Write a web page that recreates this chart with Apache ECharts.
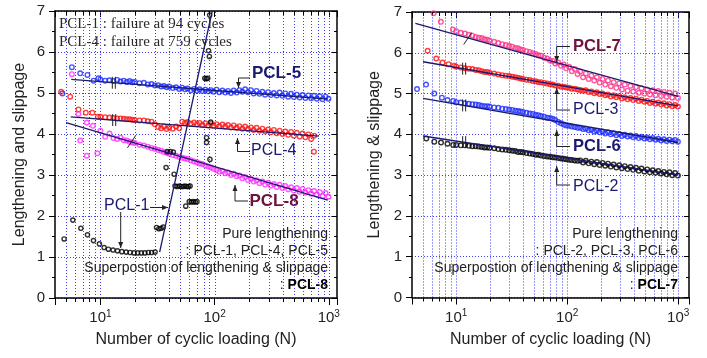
<!DOCTYPE html>
<html><head><meta charset="utf-8">
<script src="https://cdn.jsdelivr.net/npm/echarts@6/dist/echarts.min.js"></script>
<style>html,body{margin:0;padding:0;background:#fff}#c{width:707px;height:358px}</style>
</head><body><div id="c"></div>
<script>
// ---------- data ----------
const cycles = [10,11,12,13,14,15,16,17,18,19,20,22,24,26,28,30,32,34,36,38,40,43,46,49,52,55,58,62,66,70,74,78,83,88,93,98,104,110,117,124,131,139,147,156,165,175,185,196,208,220,233,247,262,277,294,311,330,350,371,393,416,441,467,495,525,556,589,624,661,701,743,787,834,884,937,993];
const majorCycles = [10,100,1000];
const minorCycles = [5,6,7,8,9,20,30,40,50,60,70,80,90,200,300,400,500,600,700,800,900];

// left panel
const pcl5Early = [[4.65,4.99],[5.62,5.63],[6.65,5.48],[7.7,5.44],[8.7,5.30],[9.6,5.36]];
const pcl5 = [5.33,5.30,5.31,5.29,5.32,5.28,5.30,5.27,5.29,5.26,
 5.27,5.24,5.25,5.21,5.22,5.18,5.19,5.16,5.17,5.14,
 5.16,5.12,5.14,5.10,5.13,5.09,5.11,5.07,5.10,5.06,
 5.09,5.05,5.08,5.04,5.07,5.03,5.08,5.02,5.06,5.01,
 5.05,5.00,5.06,5.01,5.07,5.03,5.09,5.02,5.07,4.99,
 5.05,4.98,5.03,4.96,5.02,4.95,5.00,4.94,5.01,4.93,
 4.99,4.91,4.98,4.90,4.96,4.89,4.95,4.88,4.94,4.87,
 4.93,4.86,4.92,4.85,4.91,4.86];
const pcl4Early = [[4.53,5.03],[5.43,4.91],[6.42,4.60],[7.45,4.52],[8.5,4.52],[9.5,4.42]];
const pcl4Extra = [[740,3.57]];
const pcl4 = [4.42,4.41,4.40,4.39,4.38,4.38,4.37,4.36,4.36,4.35,
 4.34,4.33,4.33,4.31,4.30,4.24,4.17,4.14,4.18,4.12,
 4.16,4.13,4.18,4.14,4.30,4.27,4.29,4.25,4.28,4.24,
 4.27,4.22,4.26,4.21,4.25,4.20,4.24,4.19,4.23,4.18,
 4.22,4.16,4.21,4.15,4.19,4.13,4.18,4.12,4.16,4.10,
 4.15,4.08,4.13,4.06,4.11,4.04,4.10,4.02,4.08,4.00,
 4.06,3.98,4.05,3.96,4.03,3.94,4.01,3.92,3.99,3.88,
 3.96];
const pcl8Early = [[5.62,5.46],[6.42,4.49],[6.65,3.84],[7.6,4.28],[7.6,3.47],[8.6,4.20],[9.4,3.53]];
const pcl8 = [4.08,3.93,4.01,3.90,3.88,3.91,3.85,3.84,3.81,3.79,
 3.78,3.74,3.72,3.69,3.66,3.64,3.61,3.59,3.56,3.54,
 3.52,3.49,3.47,3.44,3.42,3.40,3.39,3.36,3.33,3.31,
 3.28,3.27,3.23,3.21,3.18,3.15,3.12,3.08,3.10,3.04,
 3.06,3.00,3.03,2.97,2.99,2.92,2.95,2.88,2.91,2.84,
 2.87,2.80,2.84,2.77,2.81,2.74,2.78,2.71,2.76,2.68,
 2.73,2.65,2.70,2.62,2.68,2.59,2.66,2.57,2.63,2.54,
 2.61,2.52,2.58,2.49,2.56,2.47];
const pcl1 = [[4.81,1.44],[5.73,1.90],[6.74,1.70],[7.7,1.54],[8.69,1.40],[9.8,1.32],[10.77,1.23],[11.75,1.19],[12.9,1.17],[14.1,1.15],[15.4,1.13],[16.8,1.12],[18.2,1.11],[19.7,1.10],[21.2,1.10],[22.8,1.10],[24.5,1.10],[26.3,1.11],[28.1,1.11],[30.1,1.12],
 [31,1.72],[32.5,1.69],[34,1.70],[35.5,1.73],[37.6,3.18],[38.5,3.57],[41,3.57],[43.5,3.56],[44.2,3.02],
 [45,2.73],[47,2.72],[49,2.73],[51,2.72],[53,2.72],[55,2.73],[57,2.72],[59,2.72],[61,2.73],
 [55.9,2.24],[60,2.35],[62.5,2.34],[65,2.35],[67.5,2.34],[70,2.35],
 [82,5.36],[84.5,5.35],[87,5.36],[88.5,6.03],[90,5.89],[90.5,6.9],[85,3.91],[85,3.79],[91,3.38],[92.4,4.29]];
const fitPCL5 = [[5.55,5.33],[980,4.85]];
const fitPCL4 = [[5.5,4.42],[818,3.95]];
const fitPCL8 = [[5.0,4.28],[980,2.39]];
const fitPCL1 = [[33,1.12],[95.3,7.0]];
const breaksLeft = [[13.1,5.25,0],[13.2,4.34,0],[18.7,3.81,1]];

// right panel
const pcl7Early = [[6.26,6.97],[7.28,6.76],[9.34,6.57]];
const pcl7 = [6.53,6.49,6.47,6.44,6.42,6.39,6.37,6.36,6.33,6.32,
 6.30,6.27,6.24,6.21,6.19,6.17,6.15,6.12,6.11,6.08,
 6.07,6.04,6.02,5.99,5.97,5.94,5.93,5.88,5.86,5.81,
 5.80,5.74,5.76,5.68,5.71,5.62,5.66,5.55,5.60,5.48,
 5.54,5.40,5.49,5.36,5.44,5.32,5.40,5.27,5.36,5.22,
 5.32,5.18,5.28,5.14,5.25,5.10,5.22,5.07,5.19,5.05,
 5.16,5.02,5.13,5.00,5.10,4.98,5.08,4.96,5.06,4.94,
 5.04,4.92,5.02,4.90,5.00,4.89];
const pcl3Early = [[5.53,6.05],[6.62,5.86],[7.54,5.76],[8.53,5.72],[9.6,5.68]];
const pcl3 = [5.66,5.64,5.62,5.61,5.60,5.58,5.57,5.55,5.53,5.53,
 5.51,5.49,5.47,5.45,5.44,5.43,5.41,5.40,5.39,5.37,
 5.36,5.34,5.33,5.31,5.30,5.28,5.28,5.26,5.25,5.23,
 5.22,5.20,5.19,5.17,5.17,5.15,5.14,5.12,5.12,5.10,
 5.09,5.07,5.08,5.04,5.05,5.01,5.03,4.99,5.00,4.96,
 4.98,4.93,4.96,4.91,4.94,4.88,4.91,4.86,4.89,4.84,
 4.87,4.82,4.85,4.80,4.82,4.77,4.80,4.75,4.78,4.73,
 4.76,4.71,4.74,4.69,4.72,4.68];
const pcl6Early = [[4.44,5.11],[5.35,5.22],[6.35,5.00],[7.44,4.90],[8.35,4.84],[9.4,4.82]];
const pcl6 = [4.79,4.78,4.76,4.75,4.74,4.73,4.72,4.70,4.69,4.69,
 4.68,4.66,4.65,4.63,4.62,4.61,4.60,4.58,4.57,4.56,
 4.55,4.53,4.51,4.50,4.48,4.47,4.45,4.43,4.41,4.40,
 4.38,4.35,4.30,4.27,4.24,4.22,4.21,4.19,4.18,4.16,
 4.16,4.13,4.14,4.10,4.11,4.07,4.09,4.05,4.07,4.02,
 4.05,4.00,4.03,3.98,4.01,3.96,3.99,3.95,3.97,3.93,
 3.96,3.91,3.94,3.90,3.92,3.88,3.91,3.87,3.89,3.85,
 3.88,3.84,3.87,3.83,3.86,3.82];
const pcl2Early = [[5.38,3.90],[6.35,3.82],[7.3,3.80],[8.35,3.77],[9.4,3.74]];
const pcl2 = [3.74,3.73,3.73,3.72,3.71,3.71,3.70,3.69,3.68,3.68,
 3.67,3.66,3.64,3.63,3.62,3.61,3.60,3.59,3.57,3.57,
 3.56,3.54,3.53,3.52,3.50,3.50,3.48,3.47,3.46,3.45,
 3.44,3.43,3.42,3.41,3.40,3.39,3.38,3.37,3.36,3.35,
 3.36,3.31,3.35,3.29,3.33,3.27,3.32,3.25,3.30,3.23,
 3.28,3.21,3.26,3.19,3.24,3.17,3.22,3.15,3.20,3.13,
 3.18,3.11,3.16,3.09,3.14,3.07,3.12,3.06,3.10,3.04,
 3.08,3.02,3.07,3.00,3.05,2.99];
const fitPCL7 = [[4.29,6.72],[1000,4.93]];
const fitPCL3 = [[5.03,5.78],[1000,4.70]];
const fitPCL6 = [[5.03,4.88],[1000,3.80]];
const fitPCL2 = [[5.03,3.96],[1000,3.00]];
const breaksRight = [[12.7,6.35,1],[11.8,5.61,0],[11.8,4.71,0],[11.8,3.81,0]];

// ---------- chart ----------
const FONT = '"Liberation Sans", Arial, sans-serif';
const SERIF = '"Liberation Serif", "Times New Roman", serif';
const navy = '#1a1a6e', maroon = '#6e1240', ink = '#222';
const gridBlue = '#3b3bff';
function pair(xs, ys) { const out = []; for (let i = 0; i < ys.length; i++) if (ys[i] != null) out.push([xs[i], ys[i]]); return out; }
const tickData = majorCycles.map(v => [v, 1]).concat(minorCycles.map(v => [v, 0]));

function logLabel(v) {
  const e = Math.round(Math.log10(v));
  if (Math.abs(v / Math.pow(10, e) - 1) > 1e-6) return '';
  return '{b|10}{s|' + e + '}';
}
const xRich = { b: {fontSize: 15, fontFamily: FONT, color: ink, lineHeight: 18},
                s: {fontSize: 10, fontFamily: FONT, color: ink, verticalAlign: 'top', lineHeight: 10} };

function xAxes(gi, max) {
  const line = {show: true, onZero: false, lineStyle: {color: '#000', width: 1.5}};
  return [
    {gridIndex: gi, type: 'log', logBase: 10, min: 4, max: max, position: 'bottom',
     axisLine: line, axisTick: {show: true, length: 7, lineStyle: {color: '#000', width: 1}},
     splitLine: {show: false}, minorTick: {show: false},
     axisLabel: {formatter: logLabel, rich: xRich, margin: 11},
     name: 'Number of cyclic loading (N)', nameLocation: 'middle', nameGap: 34,
     nameTextStyle: {fontSize: 16, fontFamily: FONT, color: ink}},
    {gridIndex: gi, type: 'log', logBase: 10, min: 4, max: max, position: 'top',
     axisLine: line, axisTick: {show: true, inside: true, length: 6, lineStyle: {color: '#000', width: 1}},
     splitLine: {show: false}, axisLabel: {show: false}}
  ];
}
function yAxes(gi, name, gap) {
  const line = {show: true, onZero: false, lineStyle: {color: '#000', width: 1.5}};
  return [
    {gridIndex: gi, type: 'value', min: 0, max: 7, interval: 1, position: 'left',
     axisLine: line, axisTick: {show: true, length: 6, lineStyle: {color: '#000'}},
     minorTick: {show: true, splitNumber: 2, length: 3, lineStyle: {color: '#000'}},
     splitLine: {show: true, lineStyle: {color: gridBlue, width: 1, type: [1, 2]}},
     axisLabel: {fontSize: 15, fontFamily: FONT, color: ink, margin: 10},
     name: name, nameLocation: 'middle', nameGap: gap,
     nameTextStyle: {fontSize: 16, fontFamily: FONT, color: ink}},
    {gridIndex: gi, type: 'value', min: 0, max: 7, interval: 1, position: 'right',
     axisLine: line, axisTick: {show: true, inside: true, length: 5, lineStyle: {color: '#000'}},
     minorTick: {show: true, splitNumber: 2, length: 3, lineStyle: {color: '#000'}},
     splitLine: {show: false}, axisLabel: {show: false}}
  ];
}

function gridSeries(xi, yi) {
  return {type: 'custom', xAxisIndex: xi, yAxisIndex: yi, data: tickData, z: 1, silent: true,
    renderItem: function (params, api) {
      const n = api.value(0), major = api.value(1);
      const p0 = api.coord([n, 0]), p1 = api.coord([n, 7]);
      const x = Math.round(p0[0]) + 0.5;
      const ch = [{type: 'line', shape: {x1: x, y1: p0[1], x2: x, y2: p1[1]},
                   style: {stroke: gridBlue, lineWidth: 1, lineDash: [1, 2]}}];
      if (!major) {
        ch.push({type: 'line', shape: {x1: x, y1: p0[1], x2: x, y2: p0[1] + 4}, style: {stroke: '#000', lineWidth: 1}});
        ch.push({type: 'line', shape: {x1: x, y1: p1[1], x2: x, y2: p1[1] + 4}, style: {stroke: '#000', lineWidth: 1}});
      }
      return {type: 'group', children: ch};
    }};
}
function breakSeries(xi, yi, data) {
  return {type: 'custom', xAxisIndex: xi, yAxisIndex: yi, data: data, z: 6, silent: true,
    renderItem: function (params, api) {
      const p = api.coord([api.value(0), api.value(1)]);
      const st = {stroke: '#222', lineWidth: 1};
      if (api.value(2) === 0) {
        return {type: 'group', children: [
          {type: 'line', shape: {x1: p[0] - 1.5, y1: p[1] - 6, x2: p[0] - 1.5, y2: p[1] + 6}, style: st},
          {type: 'line', shape: {x1: p[0] + 1.5, y1: p[1] - 6, x2: p[0] + 1.5, y2: p[1] + 6}, style: st}]};
      }
      return {type: 'line', shape: {x1: p[0] - 4, y1: p[1] + 6, x2: p[0] + 4, y2: p[1] - 6}, style: st};
    }};
}
function pts(xi, yi, data, color, size) {
  return {type: 'scatter', xAxisIndex: xi, yAxisIndex: yi, data: data, symbol: 'circle', symbolSize: size || 4.6,
    itemStyle: {color: 'rgba(0,0,0,0)', borderColor: color, borderWidth: 1.4}, z: 2, silent: true};
}
function fit(xi, yi, data) {
  return {type: 'line', xAxisIndex: xi, yAxisIndex: yi, data: data, showSymbol: false, symbol: 'none',
    lineStyle: {color: navy, width: 1.3}, z: 5, silent: true};
}

// annotations
function txt(x, y, text, font, color, align) {
  return {type: 'text', x: x, y: y, z: 20, style: {text: text, font: font, fill: color, align: align || 'left', verticalAlign: 'middle'}};
}
function richTxt(x, y, text, rich, align) {
  return {type: 'text', x: x, y: y, z: 20, style: {text: text, rich: rich, align: align || 'left', verticalAlign: 'middle', font: '14px ' + FONT, fill: ink}};
}
function leader(points, dir) {
  const t = points[points.length - 1];
  let tri;
  if (dir === 'down') tri = [[t[0], t[1]], [t[0] - 2.5, t[1] - 6], [t[0] + 2.5, t[1] - 6]];
  else if (dir === 'up') tri = [[t[0], t[1]], [t[0] - 2.5, t[1] + 6], [t[0] + 2.5, t[1] + 6]];
  else tri = [[t[0], t[1]], [t[0] - 6, t[1] - 2.5], [t[0] - 6, t[1] + 2.5]];
  return [{type: 'polyline', z: 20, shape: {points: points}, style: {stroke: '#222', lineWidth: 1, fill: null}},
          {type: 'polygon', z: 20, shape: {points: tri}, style: {fill: '#222'}}];
}
const boldRich = {n: {font: '14px ' + FONT, fill: ink}, b: {font: 'bold 14px ' + FONT, fill: '#000'}};
const graphics = [].concat(
  txt(59, 24, 'PCL-1 : failure at 94 cycles', '15px ' + SERIF, '#2a2a2a'),
  txt(59, 42, 'PCL-4 : failure at 759 cycles', '15px ' + SERIF, '#2a2a2a'),
  txt(252, 73, 'PCL-5', 'bold 17px ' + FONT, navy),
  txt(251, 151, 'PCL-4', '16px ' + FONT, navy),
  txt(249.5, 201.5, 'PCL-8', 'bold 17px ' + FONT, maroon),
  txt(104, 206, 'PCL-1', '16px ' + FONT, navy),
  leader([[250, 78], [238.5, 78], [238.5, 88]], 'down'),
  leader([[250, 151.5], [237.5, 151.5], [237.5, 138]], 'up'),
  leader([[248, 201], [235, 201], [235, 185]], 'up'),
  leader([[150, 207.5], [168, 207.5]], 'right'),
  leader([[120.7, 212], [120.7, 248]], 'down'),
  txt(328, 234, 'Pure lengthening', '14px ' + FONT, ink, 'right'),
  txt(328, 251, ': PCL-1, PCL-4, PCL-5', '14px ' + FONT, ink, 'right'),
  txt(328, 268, 'Superpostion of lengthening & slippage', '14px ' + FONT, ink, 'right'),
  richTxt(328, 285, '{n|: }{b|PCL-8}', boldRich, 'right'),

  txt(573, 46.5, 'PCL-7', 'bold 16.5px ' + FONT, maroon),
  txt(573, 110, 'PCL-3', '16px ' + FONT, navy),
  txt(573, 146.7, 'PCL-6', 'bold 16.5px ' + FONT, navy),
  txt(573, 186.7, 'PCL-2', '16px ' + FONT, navy),
  leader([[570, 46.5], [556.7, 46.5], [556.7, 62]], 'down'),
  leader([[570, 110], [556.7, 110], [556.7, 88]], 'up'),
  leader([[570, 146.5], [556.7, 146.5], [556.7, 130]], 'up'),
  leader([[570, 185], [556.7, 185], [556.7, 166]], 'up'),
  txt(678, 234, 'Pure lengthening', '14px ' + FONT, ink, 'right'),
  txt(678, 251, ': PCL-2, PCL-3, PCL-6', '14px ' + FONT, ink, 'right'),
  txt(678, 268, 'Superpostion of lengthening & slippage', '14px ' + FONT, ink, 'right'),
  richTxt(678, 285, '{n|: }{b|PCL-7}', boldRich, 'right')
);

const blue = '#1a2aff', red = '#ff1010', magenta = '#ff2cff', pink = '#ff2f86', black = '#000';
const option = {
  animation: false,
  backgroundColor: '#fff',
  grid: [{left: 55, top: 11, width: 282, height: 287},
         {left: 412, top: 12, width: 277, height: 285.5}],
  xAxis: xAxes(0, 1180).concat(xAxes(1, 1250)),
  yAxis: yAxes(0, 'Lengthening and slippage', 27).concat(yAxes(1, 'Lengthening & slippage', 29)),
  series: [
    gridSeries(0, 0), gridSeries(2, 2),
    pts(0, 0, pcl5Early.concat(pair(cycles, pcl5)), blue),
    pts(0, 0, pcl4Early.concat(pair(cycles, pcl4)).concat(pcl4Extra), red),
    pts(0, 0, pcl8Early.concat(pair(cycles, pcl8)), magenta),
    pts(0, 0, pcl1, black, 4.2),
    fit(0, 0, fitPCL5), fit(0, 0, fitPCL4), fit(0, 0, fitPCL8), fit(0, 0, fitPCL1),
    breakSeries(0, 0, breaksLeft),
    pts(2, 2, pcl7Early.concat(pair(cycles, pcl7)), pink),
    pts(2, 2, pcl3Early.concat(pair(cycles, pcl3)), red),
    pts(2, 2, pcl6Early.concat(pair(cycles, pcl6)), blue),
    pts(2, 2, pcl2Early.concat(pair(cycles, pcl2)), black),
    fit(2, 2, fitPCL7), fit(2, 2, fitPCL3), fit(2, 2, fitPCL6), fit(2, 2, fitPCL2),
    breakSeries(2, 2, breaksRight)
  ],
  graphic: graphics
};
const chart = echarts.init(document.getElementById('c'), null, {renderer: 'canvas'});
chart.setOption(option);
</script></body></html>
